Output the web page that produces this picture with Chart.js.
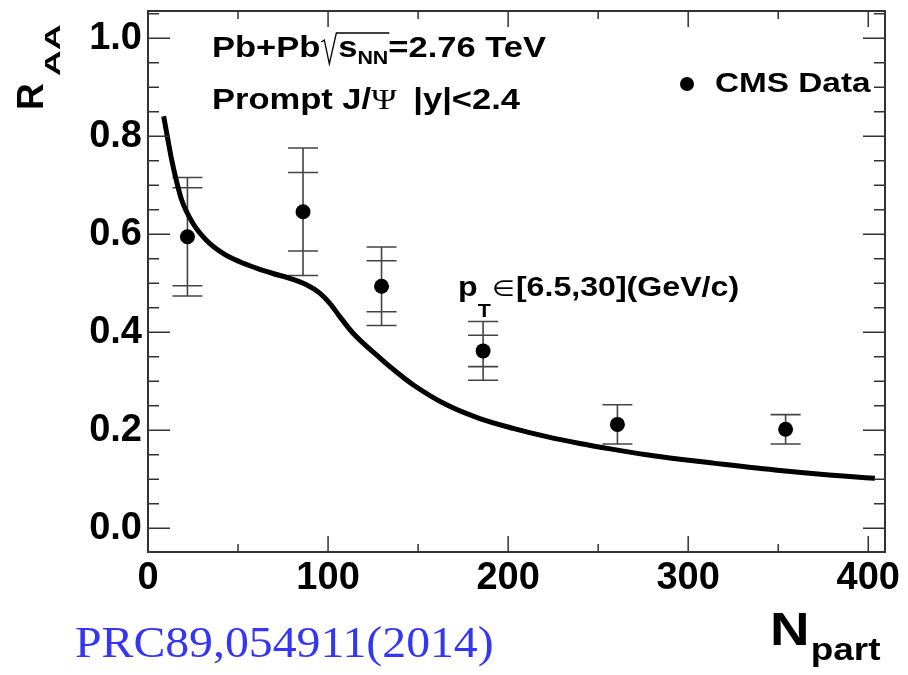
<!DOCTYPE html>
<html>
<head>
<meta charset="utf-8">
<script src="https://cdn.jsdelivr.net/npm/chart.js@4"></script>
<style>
  html, body { margin: 0; padding: 0; background: #fff; }
</style>
</head>
<body>
<canvas id="myChart" width="908" height="675"></canvas>
<script>
// CMS prompt J/psi points
const npart = [21.9, 86.1, 129.7, 186.1, 260.7, 354.1];
const raa = [0.595, 0.646, 0.494, 0.362, 0.212, 0.202];
const statErr = [0.10, 0.08, 0.052, 0.032, 0.04, 0.03];
const sysErr = [0.121, 0.13, 0.08, 0.06, 0.04, 0.03];

// model curve
const modelX = [8.7, 10.9, 13.2, 15.4, 18.7, 25, 32.4, 41.7, 50.9, 60.2, 69.4, 78.7, 88, 95.4, 101, 106.5, 113.9, 128.7, 138, 147.2, 165.8, 184.3, 202.8, 221.4, 239.8, 258.4, 277, 295.4, 313.9, 351, 388, 403.7];
const modelY = [0.841, 0.796, 0.751, 0.715, 0.670, 0.622, 0.588, 0.561, 0.544, 0.531, 0.520, 0.510, 0.497, 0.480, 0.459, 0.432, 0.398, 0.348, 0.319, 0.293, 0.252, 0.224, 0.204, 0.187, 0.173, 0.161, 0.150, 0.141, 0.133, 0.118, 0.106, 0.102];

const xTicks = [0, 100, 200, 300, 400];
const yTicks = [0, 0.2, 0.4, 0.6, 0.8, 1.0];

function sans(size, bold) {
  return (bold ? "bold " : "") + size + "px 'Liberation Sans', Arial, sans-serif";
}

// draw text runs one after another, stretched a bit in x like the original
function runs(ctx, x0, y0, sx, parts) {
  ctx.save();
  ctx.translate(x0, y0);
  ctx.scale(sx, 1);
  let cx = 0;
  const pos = [];
  parts.forEach((p) => {
    ctx.font = p.font;
    const w = ctx.measureText(p.t).width;
    ctx.fillText(p.t, cx, p.dy || 0);
    pos.push([x0 + cx * sx, x0 + (cx + w) * sx]);
    cx += w + (p.gap || 0);
  });
  ctx.restore();
  return pos;
}

function noPad(s) {
  s.paddingTop = 0;
  s.paddingBottom = 0;
  s.paddingLeft = 0;
  s.paddingRight = 0;
}

const deco = {
  id: "deco",
  beforeDatasetsDraw(chart) {
    const { ctx, scales: { x, y } } = chart;
    ctx.save();
    ctx.strokeStyle = "#444";
    ctx.lineWidth = 1.6;
    npart.forEach((n, i) => {
      const px = x.getPixelForValue(n);
      ctx.beginPath();
      ctx.moveTo(px, y.getPixelForValue(raa[i] + sysErr[i]));
      ctx.lineTo(px, y.getPixelForValue(raa[i] - sysErr[i]));
      [sysErr[i], -sysErr[i], statErr[i], -statErr[i]].forEach((e) => {
        const py = y.getPixelForValue(raa[i] + e);
        ctx.moveTo(px - 15, py);
        ctx.lineTo(px + 15, py);
      });
      ctx.stroke();
    });
    ctx.restore();
  },
  afterDraw(chart) {
    const { ctx, chartArea: a, scales: { x, y } } = chart;
    ctx.save();
    // frame
    ctx.strokeStyle = "#333";
    ctx.lineWidth = 2;
    ctx.strokeRect(a.left, a.top, a.right - a.left, a.bottom - a.top);
    // inward ticks on all sides
    ctx.lineWidth = 1.5;
    ctx.beginPath();
    for (let k = 1; k * 50 < x.max; k++) {
      const px = x.getPixelForValue(k * 50);
      const len = k % 2 === 0 ? 16 : 8;
      ctx.moveTo(px, a.bottom); ctx.lineTo(px, a.bottom - len);
      ctx.moveTo(px, a.top); ctx.lineTo(px, a.top + len);
    }
    for (let k = 0; k * 0.05 < y.max; k++) {
      const py = y.getPixelForValue(k * 0.05);
      const len = k % 4 === 0 ? 22 : 11;
      ctx.moveTo(a.left, py); ctx.lineTo(a.left + len, py);
      ctx.moveTo(a.right, py); ctx.lineTo(a.right - len, py);
    }
    ctx.stroke();

    ctx.fillStyle = "#000";
    ctx.textBaseline = "alphabetic";
    const sx = 1.19;

    // Pb+Pb sqrt(s_NN)=2.76 TeV
    const p1 = runs(ctx, 212, 57, sx, [
      { t: "Pb+Pb", font: sans(29, true), gap: 15 },
      { t: "s", font: sans(29, true) },
      { t: "NN", font: sans(18, true), dy: 7 },
      { t: "=2.76 TeV", font: sans(29, true) }
    ]);
    // radical sign
    const r0 = p1[0][1] + 1;
    ctx.strokeStyle = "#000";
    ctx.lineWidth = 1.3;
    ctx.beginPath();
    ctx.moveTo(r0, 42);
    ctx.lineTo(r0 + 3, 40);
    ctx.lineTo(r0 + 8, 64);
    ctx.lineTo(r0 + 15, 33);
    ctx.lineTo(p1[2][1] + 1, 33);
    ctx.stroke();

    // Prompt J/Psi |y|<2.4
    runs(ctx, 212, 109, sx, [
      { t: "Prompt J/", font: sans(29, true) },
      { t: "\u03A8", font: "29px 'Liberation Serif', serif", gap: 6 },
      { t: " |y|<2.4", font: sans(29, true) }
    ]);

    // pT range
    runs(ctx, 458, 296, sx, [
      { t: "p", font: sans(27, true) },
      { t: "T", font: sans(18, true), dy: 21, gap: 1 },
      { t: "\u2208", font: "22px 'DejaVu Sans', sans-serif", gap: 1 },
      { t: "[6.5,30](GeV/c)", font: sans(27, true) }
    ]);

    // legend
    ctx.beginPath();
    ctx.arc(687, 84, 7, 0, Math.PI * 2);
    ctx.fill();
    runs(ctx, 715, 92, sx, [{ t: "CMS Data", font: sans(28, true) }]);

    // axis titles
    runs(ctx, 770, 645, sx, [
      { t: "N", font: sans(46, true), gap: 1 },
      { t: "part", font: sans(31, true), dy: 15 }
    ]);

    ctx.save();
    ctx.translate(43, 110);
    ctx.rotate(-Math.PI / 2);
    ctx.font = sans(37, true);
    ctx.fillText("R", 0, 0);
    const rw = ctx.measureText("R").width;
    ctx.translate(rw + 7, 17);
    ctx.scale(1.38, 0.85);
    ctx.font = sans(26, true);
    ctx.fillText("AA", 0, 0);
    ctx.restore();

    // reference
    ctx.fillStyle = "#3535f5";
    runs(ctx, 75, 657, 1.085, [{ t: "PRC89,054911(2014)", font: "44px 'Liberation Serif', 'Times New Roman', serif" }]);
    ctx.restore();
  }
};

const ctx = document.getElementById("myChart").getContext("2d");
new Chart(ctx, {
  type: "scatter",
  data: {
    datasets: [
      {
        label: "model",
        data: modelX.map((v, i) => ({ x: v, y: modelY[i] })),
        showLine: true,
        borderColor: "#000",
        borderWidth: 5,
        pointRadius: 0,
        cubicInterpolationMode: "monotone",
        fill: false
      },
      {
        label: "CMS Data",
        data: npart.map((v, i) => ({ x: v, y: raa[i] })),
        pointRadius: 7.5,
        pointBackgroundColor: "#000",
        pointBorderWidth: 0,
        showLine: false
      }
    ]
  },
  options: {
    responsive: false,
    animation: false,
    layout: { padding: { top: 11, right: 23, left: 0, bottom: 0 } },
    plugins: { legend: { display: false }, tooltip: { enabled: false } },
    scales: {
      x: {
        type: "linear",
        min: 0,
        max: 409.3,
        grid: { display: false, drawTicks: false },
        border: { display: false },
        afterFit: (s) => { s.height = 123; noPad(s); },
        afterBuildTicks: (s) => { s.ticks = xTicks.map((v) => ({ value: v })); },
        ticks: { font: { family: "'Liberation Sans', Arial", size: 38, weight: "bold" }, color: "#000", padding: 4, maxRotation: 0 }
      },
      y: {
        type: "linear",
        min: -0.0484,
        max: 1.0557,
        grid: { display: false, drawTicks: false },
        border: { display: false },
        afterFit: (s) => { s.width = 148; noPad(s); },
        afterBuildTicks: (s) => { s.ticks = yTicks.map((v) => ({ value: v })); },
        ticks: { font: { family: "'Liberation Sans', Arial", size: 38, weight: "bold" }, color: "#000", padding: 6, callback: (v) => v.toFixed(1) }
      }
    }
  },
  plugins: [deco]
});
</script>
</body>
</html>
